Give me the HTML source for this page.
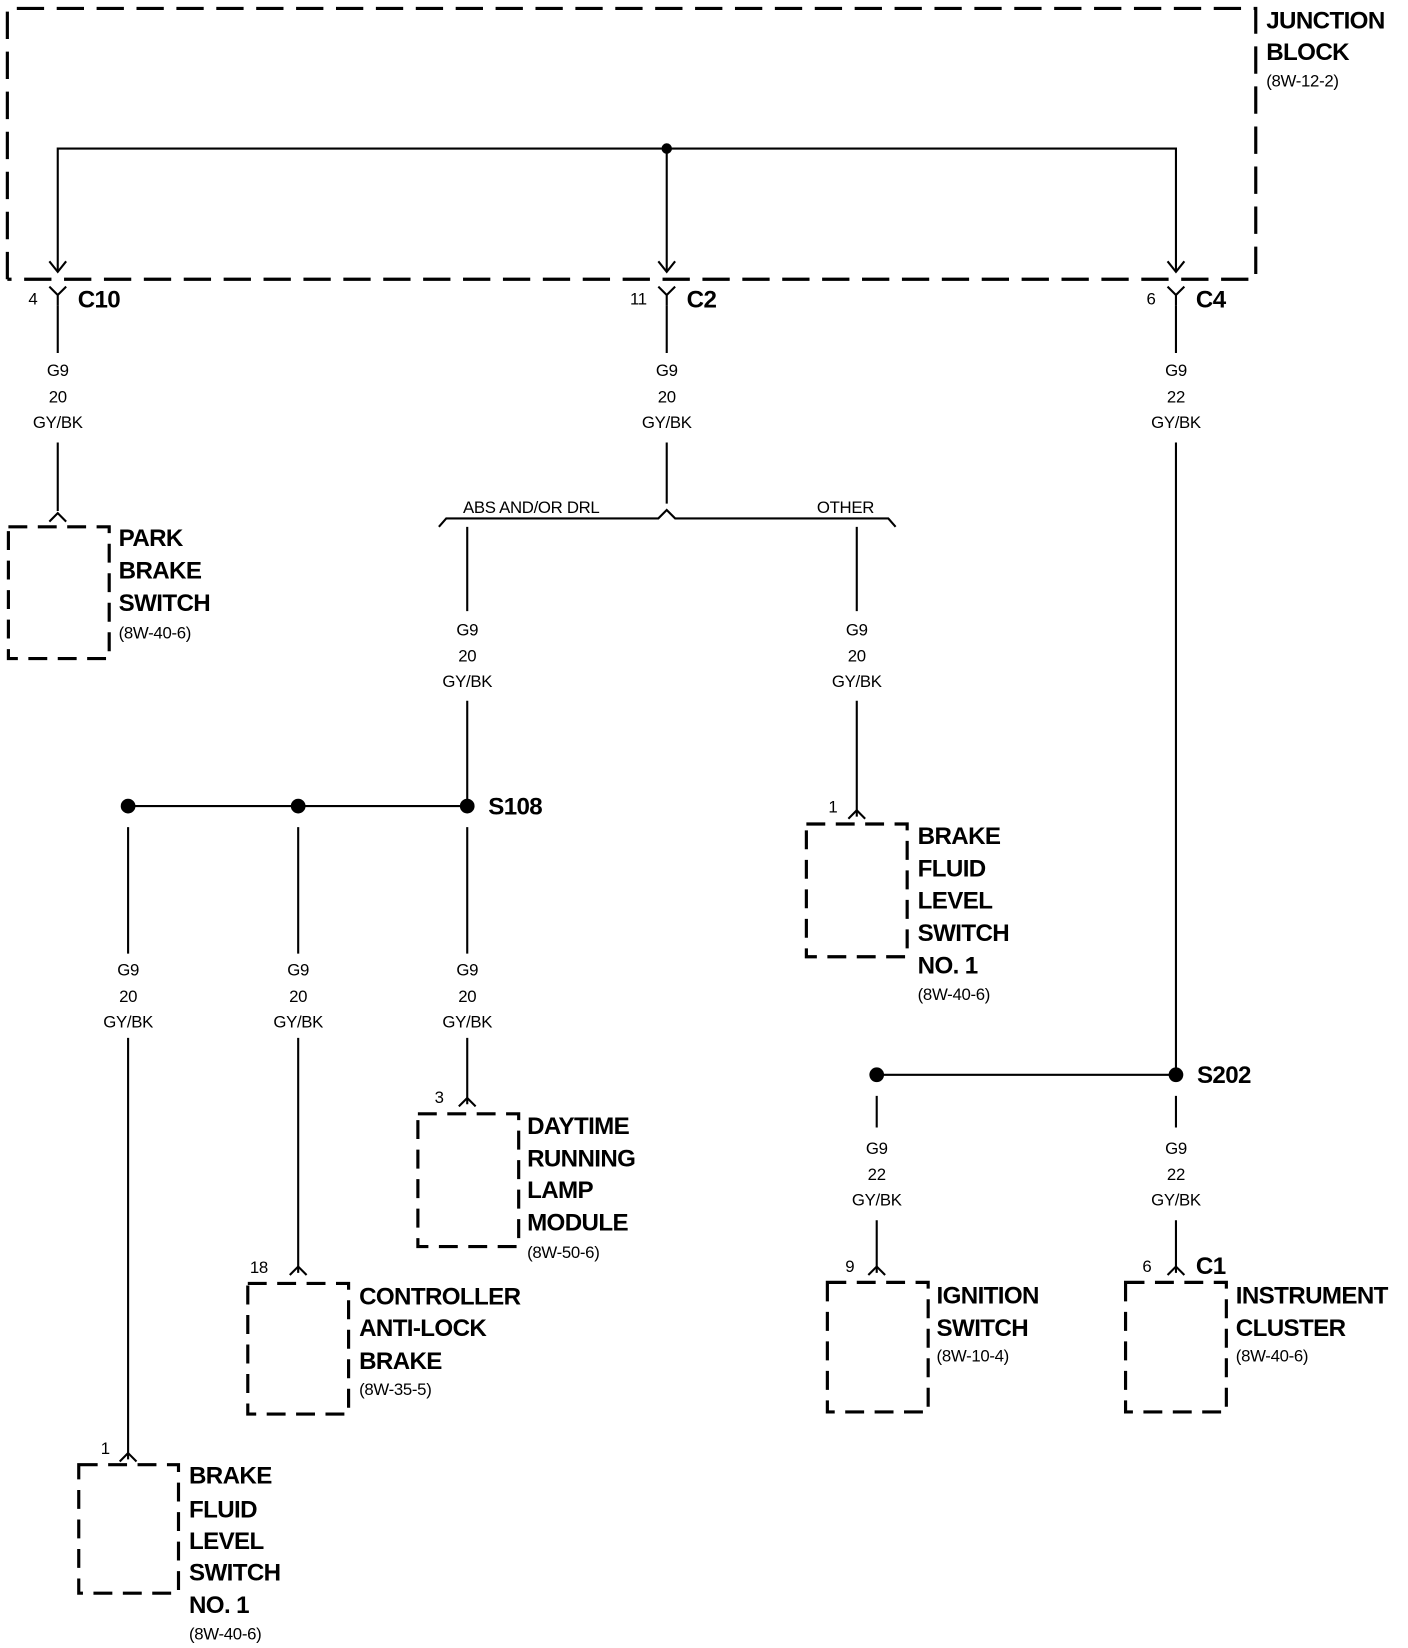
<!DOCTYPE html>
<html><head><meta charset="utf-8"><style>
html,body{margin:0;padding:0;background:#fff;}
svg{display:block;}
text{font-family:"Liberation Sans",sans-serif;fill:#000;}
.b{font-weight:bold;font-size:23px;letter-spacing:-0.6px;}
.s{font-size:16px;letter-spacing:-0.3px;}
.w{font-size:16px;text-anchor:middle;letter-spacing:-0.3px;}
</style></head><body>
<svg width="1408" height="1648" viewBox="0 0 1341 1564" preserveAspectRatio="none" xmlns="http://www.w3.org/2000/svg">
<g fill="none" stroke="#000" stroke-width="3">
<path d="M7 265 L7 8 L1196 8 L1196 265 L7 265" stroke-dasharray="26 12"/>
<path d="M55 258 V141 H1120 V258 M635 141 V258" stroke-width="2"/>
<path d="M47 248 L55 258 L63 248 M627 248 L635 258 L643 248 M1112 248 L1120 258 L1128 248" stroke-width="2"/>
<path d="M47 272 L55 280 L63 272 M55 280 V290 M627 272 L635 280 L643 272 M635 280 V290 M1112 272 L1120 280 L1128 272 M1120 280 V290" stroke-width="2"/>
<g stroke-width="2">
<path d="M55 290 V335 M55 420 V485"/>
<path d="M635 290 V335 M635 420 V478"/>
<path d="M1120 290 V335 M1120 420 V1020"/>
<path d="M418 500 L425 492 H627 L635 484 L643 492 H846 L853 500"/>
<path d="M445 500 V580 M445 665 V765 M816 500 V580 M816 665 V775"/>
<path d="M122 765 H445"/>
<path d="M122 785 V905 M284 785 V905 M445 785 V905"/>
<path d="M122 985 V1385 M284 985 V1208 M445 985 V1048"/>
<path d="M835 1020 H1120"/>
<path d="M835 1040 V1070 M1120 1040 V1070 M835 1158 V1208 M1120 1158 V1208"/>
<path d="M47 495 L55 487 L63 495 M808 777 L816 769 L824 777 M437 1050 L445 1042 L453 1050 M276 1210 L284 1202 L292 1210 M114 1387 L122 1379 L130 1387 M827 1210 L835 1202 L843 1210 M1112 1210 L1120 1202 L1128 1210"/>
</g>
<g stroke-dasharray="18 10">
<rect x="8" y="500" width="96" height="125"/>
<rect x="768" y="782" width="96" height="126"/>
<rect x="398" y="1057" width="96" height="126"/>
<rect x="236" y="1218" width="96" height="124"/>
<rect x="75" y="1390" width="95" height="122"/>
<rect x="788" y="1217" width="96" height="123"/>
<rect x="1072" y="1217" width="96" height="123"/>
</g>
</g>
<g fill="#000">
<circle cx="635" cy="141" r="5"/>
<circle cx="445" cy="765" r="7"/><circle cx="284" cy="765" r="7"/><circle cx="122" cy="765" r="7"/>
<circle cx="1120" cy="1020" r="7"/><circle cx="835" cy="1020" r="7"/>
</g>
<text class="b" x="1206" y="27">JUNCTION</text>
<text class="b" x="1206" y="57">BLOCK</text>
<text class="s" x="1206" y="82">(8W-12-2)</text>
<text class="s" x="27" y="289">4</text><text class="b" x="74" y="292">C10</text>
<text class="s" x="600" y="289">11</text><text class="b" x="654" y="292">C2</text>
<text class="s" x="1092" y="289">6</text><text class="b" x="1139" y="292">C4</text>
<g class="w">
<text x="55" y="357">G9</text><text x="55" y="382">20</text><text x="55" y="406">GY/BK</text>
<text x="635" y="357">G9</text><text x="635" y="382">20</text><text x="635" y="406">GY/BK</text>
<text x="1120" y="357">G9</text><text x="1120" y="382">22</text><text x="1120" y="406">GY/BK</text>
<text x="445" y="603">G9</text><text x="445" y="628">20</text><text x="445" y="652">GY/BK</text>
<text x="816" y="603">G9</text><text x="816" y="628">20</text><text x="816" y="652">GY/BK</text>
<text x="122" y="926">G9</text><text x="122" y="951">20</text><text x="122" y="975">GY/BK</text>
<text x="284" y="926">G9</text><text x="284" y="951">20</text><text x="284" y="975">GY/BK</text>
<text x="445" y="926">G9</text><text x="445" y="951">20</text><text x="445" y="975">GY/BK</text>
<text x="835" y="1095">G9</text><text x="835" y="1120">22</text><text x="835" y="1144">GY/BK</text>
<text x="1120" y="1095">G9</text><text x="1120" y="1120">22</text><text x="1120" y="1144">GY/BK</text>
</g>
<text class="s" x="441" y="487">ABS AND/OR DRL</text>
<text class="s" x="778" y="487">OTHER</text>
<text class="b" x="113" y="518">PARK</text><text class="b" x="113" y="549">BRAKE</text><text class="b" x="113" y="580">SWITCH</text><text class="s" x="113" y="606">(8W-40-6)</text>
<text class="b" x="465" y="773">S108</text>
<text class="s" x="789" y="771">1</text>
<text class="b" x="874" y="801">BRAKE</text><text class="b" x="874" y="832">FLUID</text><text class="b" x="874" y="862">LEVEL</text><text class="b" x="874" y="893">SWITCH</text><text class="b" x="874" y="924">NO. 1</text><text class="s" x="874" y="949">(8W-40-6)</text>
<text class="s" x="414" y="1047">3</text>
<text class="b" x="502" y="1076">DAYTIME</text><text class="b" x="502" y="1107">RUNNING</text><text class="b" x="502" y="1137">LAMP</text><text class="b" x="502" y="1168">MODULE</text><text class="s" x="502" y="1194">(8W-50-6)</text>
<text class="s" x="238" y="1208">18</text>
<text class="b" x="342" y="1238">CONTROLLER</text><text class="b" x="342" y="1268">ANTI-LOCK</text><text class="b" x="342" y="1299">BRAKE</text><text class="s" x="342" y="1324">(8W-35-5)</text>
<text class="s" x="96" y="1380">1</text>
<text class="b" x="180" y="1408">BRAKE</text><text class="b" x="180" y="1440">FLUID</text><text class="b" x="180" y="1470">LEVEL</text><text class="b" x="180" y="1500">SWITCH</text><text class="b" x="180" y="1531">NO. 1</text><text class="s" x="180" y="1556">(8W-40-6)</text>
<text class="b" x="1140" y="1028">S202</text>
<text class="s" x="805" y="1207">9</text>
<text class="b" x="892" y="1237">IGNITION</text><text class="b" x="892" y="1268">SWITCH</text><text class="s" x="892" y="1292">(8W-10-4)</text>
<text class="s" x="1088" y="1207">6</text><text class="b" x="1139" y="1209">C1</text>
<text class="b" x="1177" y="1237">INSTRUMENT</text><text class="b" x="1177" y="1268">CLUSTER</text><text class="s" x="1177" y="1292">(8W-40-6)</text>
</svg>
</body></html>
